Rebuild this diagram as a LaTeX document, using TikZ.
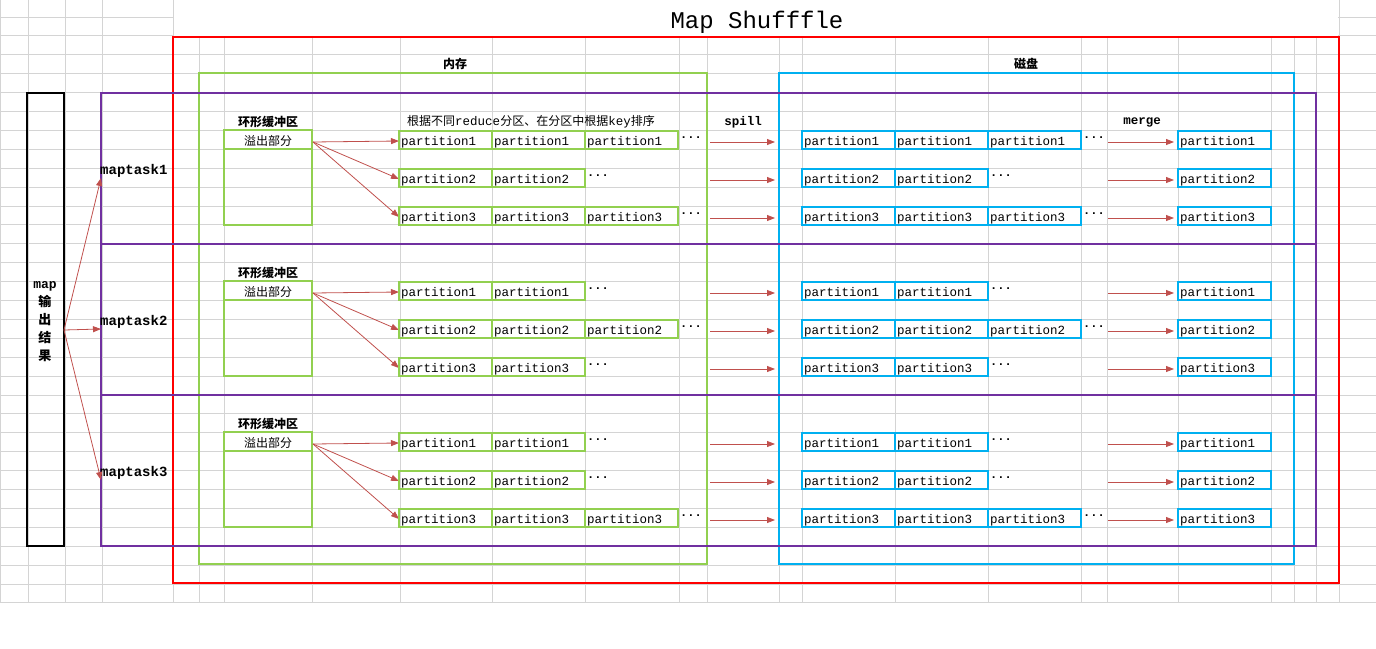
\documentclass[tikz,border=0pt]{standalone}
\usepackage{fontspec}
\setmainfont{Liberation Mono}
\newfontfamily\cjk{Noto Sans CJK SC}
\usetikzlibrary{arrows.meta}
\definecolor{gridc}{RGB}{212,212,212}
\definecolor{greenc}{RGB}{146,208,80}
\definecolor{bluec}{RGB}{0,176,240}
\definecolor{purplec}{RGB}{112,48,160}
\definecolor{arrc}{RGB}{192,80,77}
\tikzset{
  gbox/.style={draw=greenc,line width=1.6pt},
  bbox/.style={draw=bluec,line width=1.6pt},
  pbox/.style={draw=purplec,line width=1.6pt},
  arr/.style={draw=arrc,line width=0.8pt,-{Triangle[length=8pt,width=6pt]}},
  ptxt/.style={anchor=west,inner sep=0pt,font=\fontsize{12.5}{13}\selectfont},
  cjkb/.style={inner sep=0pt,font=\cjk\bfseries\fontsize{12}{13}\selectfont},
  cjkn/.style={inner sep=0pt,font=\cjk\fontsize{12}{13}\selectfont},
  lbl/.style={inner sep=0pt,font=\bfseries\fontsize{12.5}{13}\selectfont},
  dots/.style={anchor=west,inner sep=0pt,font=\bfseries\fontsize{12}{13}\selectfont}
}
\begin{document}
\begin{tikzpicture}[x=1pt,y=-1pt]
\useasboundingbox (0,0) rectangle (1376,648);
% grid
\foreach \gx in {0,28,65,102,173,199,224,312,400,492,585,679,707,779,802,895,988,1081,1107,1178,1271,1294,1316,1339,1376}
  \draw[gridc,line width=0.8pt] (\gx,0) -- (\gx,603);
\foreach \k in {1,...,32}
  \draw[gridc,line width=0.8pt] (0,{-2+18.9*\k}) -- (1376,{-2+18.9*\k});
\fill[white] (174,0) rectangle (1338,36);
\node[inner sep=0pt,font=\fontsize{24}{26}\selectfont] (title) at (757,22) {Map Shufffle};
% outer boxes
\draw[red,line width=1.6pt] (173,37) rectangle (1339,583);
\draw[gbox] (199,73) rectangle (707,564);
\draw[bbox] (779,73) rectangle (1294,564);
\node[cjkb] (mem) at (455,64) {内存};
\node[cjkb] (disk) at (1026,64) {磁盘};
\draw[black,line width=1.6pt] (27,93) rectangle (64,546);
\node[inner sep=0pt,align=center,font=\bfseries\fontsize{13}{18}\selectfont] (mapout) at (45,322) {map\\{\cjk 输}\\{\cjk 出}\\{\cjk 结}\\{\cjk 果}};
\coordinate (src) at (64,330);
\foreach \t/\ty in {1/0,2/151,3/302}{
  \draw[pbox] (101,{93+\ty}) rectangle (1316,{244+\ty});
  \node[lbl,anchor=west,font=\bfseries\fontsize{14}{15}\selectfont] (mt\t) at (100,{171+\ty}) {maptask\t};
  \coordinate (mtin\t) at (101,{178+\ty});
  \draw[arr] (src) -- (mtin\t);
  \node[cjkb] (ring\t) at (268,{122+\ty}) {环形缓冲区};
  \draw[gbox] (224,{130+\ty}) rectangle (312,{225+\ty});
  \draw[gbox] (224,{149+\ty}) -- (312,{149+\ty});
  \node[cjkn] (over\t) at (268,{141+\ty}) {溢出部分};
  \coordinate (os\t) at (313,{142+\ty});
  \foreach \r in {0,1,2}{
    \coordinate (pt\t\r) at (399,{141+38*\r+\ty});
    \draw[arr] (os\t) -- (pt\t\r);
    \coordinate (sa\t\r) at (710,{142+38*\r+\ty});
    \coordinate (sb\t\r) at (775,{142+38*\r+\ty});
    \draw[arr] (sa\t\r) -- (sb\t\r);
    \coordinate (ma\t\r) at (1108,{142+38*\r+\ty});
    \coordinate (mb\t\r) at (1174,{142+38*\r+\ty});
    \draw[arr] (ma\t\r) -- (mb\t\r);
    \pgfmathtruncatemacro{\pn}{\r+1}
    \draw[bbox] (1178,{131+38*\r+\ty}) rectangle (1271,{149+38*\r+\ty});
    \node[ptxt] (fin\t\r) at (1180,{142+38*\r+\ty}) {partition\pn};
  }
}
% rows: task, row, count
\foreach \t/\ty/\r/\n in {1/0/0/3,1/0/1/2,1/0/2/3,2/151/0/2,2/151/1/3,2/151/2/2,3/302/0/2,3/302/1/2,3/302/2/3}{
  \pgfmathtruncatemacro{\pn}{\r+1}
  \foreach \c in {1,...,\n}{
    \pgfmathsetmacro{\mx}{399+93*(\c-1)}
    \pgfmathsetmacro{\dx}{802+93*(\c-1)}
    \draw[gbox] (\mx,{131+38*\r+\ty}) rectangle ({\mx+93},{149+38*\r+\ty});
    \node[ptxt] (m\t\r\c) at ({\mx+2},{142+38*\r+\ty}) {partition\pn};
    \draw[bbox] (\dx,{131+38*\r+\ty}) rectangle ({\dx+93},{149+38*\r+\ty});
    \node[ptxt] (d\t\r\c) at ({\dx+2},{142+38*\r+\ty}) {partition\pn};
  }
  \node[dots] (md\t\r) at ({399+93*\n+2},{138+38*\r+\ty}) {...};
  \node[dots] (dd\t\r) at ({802+93*\n+2},{138+38*\r+\ty}) {...};
}
\node[cjkn] (hdr) at (531,122) {根据不同{\rmfamily\fontsize{12.5}{13}\selectfont reduce}分区、在分区中根据{\rmfamily\fontsize{12.5}{13}\selectfont key}排序};
\node[lbl] (spill) at (743,122) {spill};
\node[lbl] (merge) at (1142,122) {merge};
\end{tikzpicture}
\end{document}
